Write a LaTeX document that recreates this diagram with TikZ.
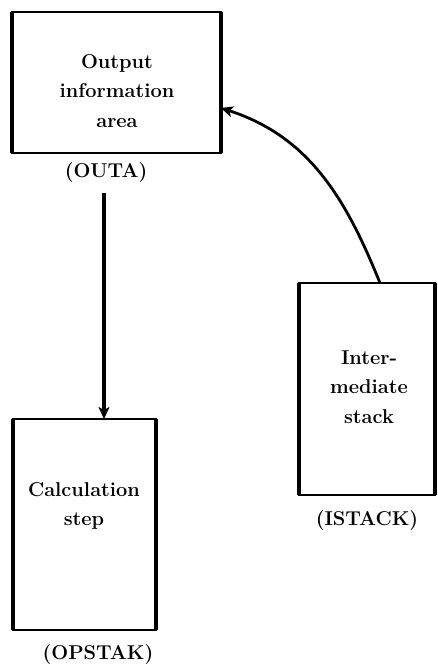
\documentclass[tikz,border=0pt]{standalone}
\usepackage{fontspec}
\usetikzlibrary{arrows.meta}
\begin{document}
\begin{tikzpicture}[x=1pt,y=-1pt,
  boxframe/.style={draw=black,line width=1.8pt,outer sep=0pt,inner sep=0pt},
  sideline/.style={line width=4pt},
  boxtext/.style={align=center,font=\fontsize{20}{29.5}\selectfont\bfseries,inner sep=0pt},
  labeltext/.style={font=\fontsize{20}{24}\selectfont\bfseries,inner sep=0pt},
  conn/.style={line width=3.4pt,-{Stealth[length=12pt,width=11pt,inset=3pt]}}
]
\useasboundingbox[fill=white] (0,0) rectangle (437,672);
% boxes
\node[boxframe,minimum width=209pt,minimum height=141pt] (outa) at (116.5,82.5) {};
\node[boxframe,minimum width=143pt,minimum height=211pt] (opstak) at (84.5,524.5) {};
\node[boxframe,minimum width=136pt,minimum height=212pt] (istack) at (367,389) {};
\foreach \b in {outa,opstak,istack}{
  \draw[sideline] (\b.north west) -- (\b.south west);
  \draw[sideline] (\b.north east) -- (\b.south east);
}
% texts
\node[boxtext] (outatxt) at (117,91) {Output\\information\\area};
\node[boxtext] (opstaktxt) at (84,506) {Calculation\\step};
\node[boxtext] (istacktxt) at (369,387) {Inter-\\mediate\\stack};
% labels
\node[labeltext] (outalbl) at (106,173) {(OUTA)};
\node[labeltext] (opstaklbl) at (98,655) {(OPSTAK)};
\node[labeltext] (istacklbl) at (367,521) {(ISTACK)};
% connectors
\coordinate (a1) at (104,193);
\draw[conn] (a1) -- (a1 |- opstak.north);
\coordinate (c1) at (380,283);
\coordinate (c2) at (221,108);
\draw[conn,line width=2.8pt] (c1 |- istack.north) to[out=112,in=-18] (c2);
\end{tikzpicture}
\end{document}
